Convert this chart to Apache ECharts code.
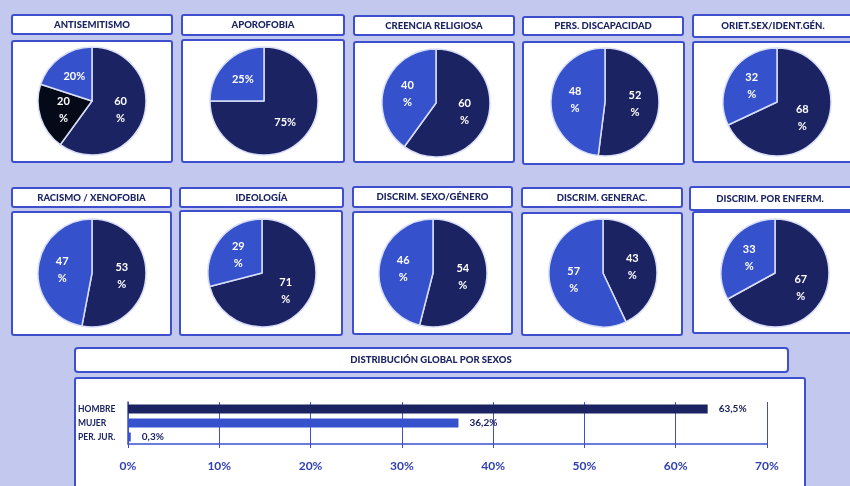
<!DOCTYPE html>
<html>
<head>
<meta charset="utf-8">
<script src="https://cdn.jsdelivr.net/npm/echarts@6/dist/echarts.min.js"></script>
<style>
  html, body { margin: 0; padding: 0; background: #c3c9ee; }
  #chart { width: 850px; height: 486px; }
</style>
</head>
<body>
<div id="chart"></div>
<script>
// datos por tipo de delito (%)
const categories = ['ANTISEMITISMO', 'APOROFOBIA', 'CREENCIA RELIGIOSA', 'PERS. DISCAPACIDAD', 'ORIET.SEX/IDENT.GÉN.',
  'RACISMO / XENOFOBIA', 'IDEOLOGÍA', 'DISCRIM. SEXO/GÉNERO', 'DISCRIM. GENERAC.', 'DISCRIM. POR ENFERM.'];
const darkShare = [60, 75, 60, 52, 68, 53, 71, 54, 43, 67];
const blackShare = [20, 0, 0, 0, 0, 0, 0, 0, 0, 0];
const blueShare = [20, 25, 40, 48, 32, 47, 29, 46, 57, 33];

// distribución global
const sexes = ['HOMBRE', 'MUJER', 'PER. JUR.'];
const sexShare = [63.5, 36.2, 0.3];
const axisMax = 70;
const axisStep = 10;

const NAVY = '#1b2363';
const BLUE = '#3551cc';
const BLACK = '#050a18';
const LINE = '#3d4fcc';
const FONT = 'Lato, "Open Sans", sans-serif';

// layout de las cajas
const titleBoxes = [
  [12, 15, 160, 19], [182, 15, 162, 20], [354, 16, 160, 19], [523, 17, 160, 18], [693, 15, 165, 22],
  [12, 188, 159, 19], [180, 188, 163, 19], [353, 187, 159, 20], [522, 188, 160, 19], [690, 187, 168, 23],
];
const pieBoxes = [
  [12, 41, 160, 121], [182, 40, 162, 122], [354, 42, 160, 120], [523, 42, 161, 122], [693, 42, 165, 120],
  [12, 212, 159, 123], [180, 211, 162, 124], [353, 212, 159, 122], [522, 213, 160, 122], [693, 212, 165, 121],
];
const pieCenters = [
  [92, 101], [264, 101], [436, 103], [605, 102], [777, 102],
  [92, 273], [262, 273], [433, 273], [603, 273], [775, 273],
];
// etiquetas en una sola línea (índice de la porción)
const oneLine = { 0: [2], 1: [0, 1] };

const chart = echarts.init(document.getElementById('chart'));

const graphics = [];
const boxStyle = { fill: '#fff', stroke: LINE, lineWidth: 2 };
const titleFont = '900 9.5px ' + FONT;
titleBoxes.forEach((b, i) => {
  graphics.push({ type: 'rect', shape: { x: b[0], y: b[1], width: b[2], height: b[3], r: 2 }, style: boxStyle });
  const cx = i % 5 === 4 ? b[0] + 80 : b[0] + b[2] / 2;
  graphics.push({
    type: 'text', x: cx, y: b[1] + b[3] / 2, z: 10,
    style: { text: categories[i], fill: NAVY, font: titleFont, align: 'center', verticalAlign: 'middle' },
  });
});
pieBoxes.forEach((b) => {
  graphics.push({ type: 'rect', shape: { x: b[0], y: b[1], width: b[2], height: b[3], r: 2 }, style: boxStyle });
});
graphics.push({ type: 'rect', shape: { x: 75, y: 348, width: 713, height: 24, r: 3 }, style: boxStyle });
graphics.push({
  type: 'text', x: 431, y: 360, z: 10,
  style: { text: 'DISTRIBUCIÓN GLOBAL POR SEXOS', fill: NAVY, font: titleFont, align: 'center', verticalAlign: 'middle' },
});
graphics.push({ type: 'rect', shape: { x: 75, y: 378, width: 730, height: 115, r: 2 }, style: boxStyle });

const pieSeries = categories.map((name, i) => {
  const slices = [
    { value: darkShare[i], color: NAVY },
    { value: blackShare[i], color: BLACK },
    { value: blueShare[i], color: BLUE },
  ].filter((s) => s.value > 0);
  const single = oneLine[i] || [];
  return {
    type: 'pie',
    name: name,
    center: pieCenters[i],
    radius: 54,
    startAngle: 90,
    clockwise: true,
    silent: true,
    data: slices.map((s, k) => ({
      value: s.value,
      itemStyle: { color: s.color },
      label: { formatter: single.indexOf(k) >= 0 ? '{c}%' : '{c}\n%' },
    })),
    itemStyle: { borderColor: '#d8ddf8', borderWidth: 1.5 },
    label: {
      show: true, position: 'inside', color: '#fff',
      fontFamily: FONT, fontWeight: 'bold', fontSize: 11, lineHeight: 17,
    },
    labelLine: { show: false },
  };
});

chart.setOption({
  animation: false,
  backgroundColor: '#c3c9ee',
  graphic: graphics,
  grid: { left: 128, right: 83, top: 402, height: 42 },
  xAxis: {
    type: 'value',
    min: 0,
    max: axisMax,
    interval: axisStep,
    axisLine: { show: true, lineStyle: { color: LINE, width: 1.5 } },
    axisTick: { show: true, length: 4, lineStyle: { color: LINE } },
    splitLine: { show: true, lineStyle: { color: LINE, width: 1 } },
    axisLabel: {
      formatter: '{value}%', color: '#2f3fb0', fontFamily: FONT, fontWeight: 'bold', fontSize: 12, margin: 16,
    },
  },
  yAxis: {
    type: 'category',
    inverse: true,
    data: sexes,
    axisLine: { show: true, lineStyle: { color: LINE, width: 1.5 } },
    axisTick: { show: false },
    axisLabel: {
      color: NAVY, fontFamily: FONT, fontWeight: 'bold', fontSize: 8.5, align: 'left', margin: 50,
    },
  },
  series: pieSeries.concat([
    {
      type: 'bar',
      barWidth: 9,
      data: sexShare.map((v, i) => ({ value: v, itemStyle: { color: i === 0 ? NAVY : BLUE } })),
      label: {
        show: true, position: 'right', distance: 11,
        formatter: (p) => String(p.value).replace('.', ',') + '%',
        color: NAVY, fontFamily: FONT, fontWeight: 'bold', fontSize: 10,
      },
    },
  ]),
});
</script>
</body>
</html>
